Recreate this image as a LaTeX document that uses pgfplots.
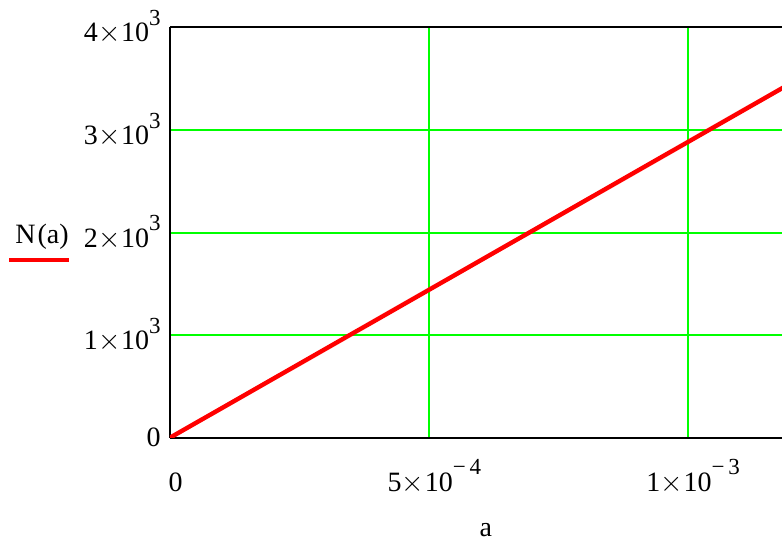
\documentclass[border=0pt]{standalone}
\usepackage{fontspec}
\setmainfont{Liberation Serif}
\usepackage{pgfplots}
\pgfplotsset{compat=1.18}
\definecolor{mcgreen}{RGB}{0,255,0}
\newcommand\sups[1]{\raisebox{0.58em}{\fontsize{11.5}{12}\selectfont #1}}
\newcommand\tms{\kern0.2pt$\times$\kern0.2pt}
\begin{document}
\fontsize{14}{16}\selectfont
\begin{tikzpicture}
\useasboundingbox (-85pt,-51.15pt) rectangle (306pt,218.85pt);
\begin{axis}[
  scale only axis,
  width=306pt, height=205.2pt,
  xmin=0, xmax=1.1826e-3,
  ymin=0, ymax=4000,
  axis x line*=box,
  axis y line*=left,
  axis line style={black, line width=1pt},
  xtick={0,5e-4,1e-3},
  xticklabels={0, 5\tms10\sups{−\,4}, 1\tms10\sups{−\,3}},
  ytick={0,1000,2000,3000,4000},
  yticklabels={0, 1\tms10\sups{3}, 2\tms10\sups{3}, 3\tms10\sups{3}, 4\tms10\sups{3}},
  major tick length=0pt,
  scaled x ticks=false, scaled y ticks=false,
  xticklabel style={anchor=base, yshift=-26.7pt, xshift=2.8pt},
  yticklabel style={anchor=east, inner sep=0pt, xshift=-4.5pt},
  grid=major,
  grid style={mcgreen, line width=1pt},
  xlabel={a},
  xlabel style={at={(axis description cs:0.516,-0.2405)}, anchor=base, inner sep=0pt},
  ylabel={N\kern1pt(a)},
  ylabel style={rotate=-90, at={(axis description cs:-0.2092,0.4744)}, anchor=base},
  extra description/.code={\draw[red, line width=2.2pt] (-0.263,0.433) -- (-0.165,0.433);},
  clip=true,
]
\addplot[red, line width=2.2pt] coordinates {
  (0,0) (1e-4,288) (2e-4,576) (3e-4,864) (4e-4,1152) (5e-4,1440)
  (6e-4,1728) (7e-4,2016) (8e-4,2304) (9e-4,2592) (1e-3,2880)
  (1.1e-3,3168) (1.2e-3,3456)
};
\end{axis}
\end{tikzpicture}
\end{document}
